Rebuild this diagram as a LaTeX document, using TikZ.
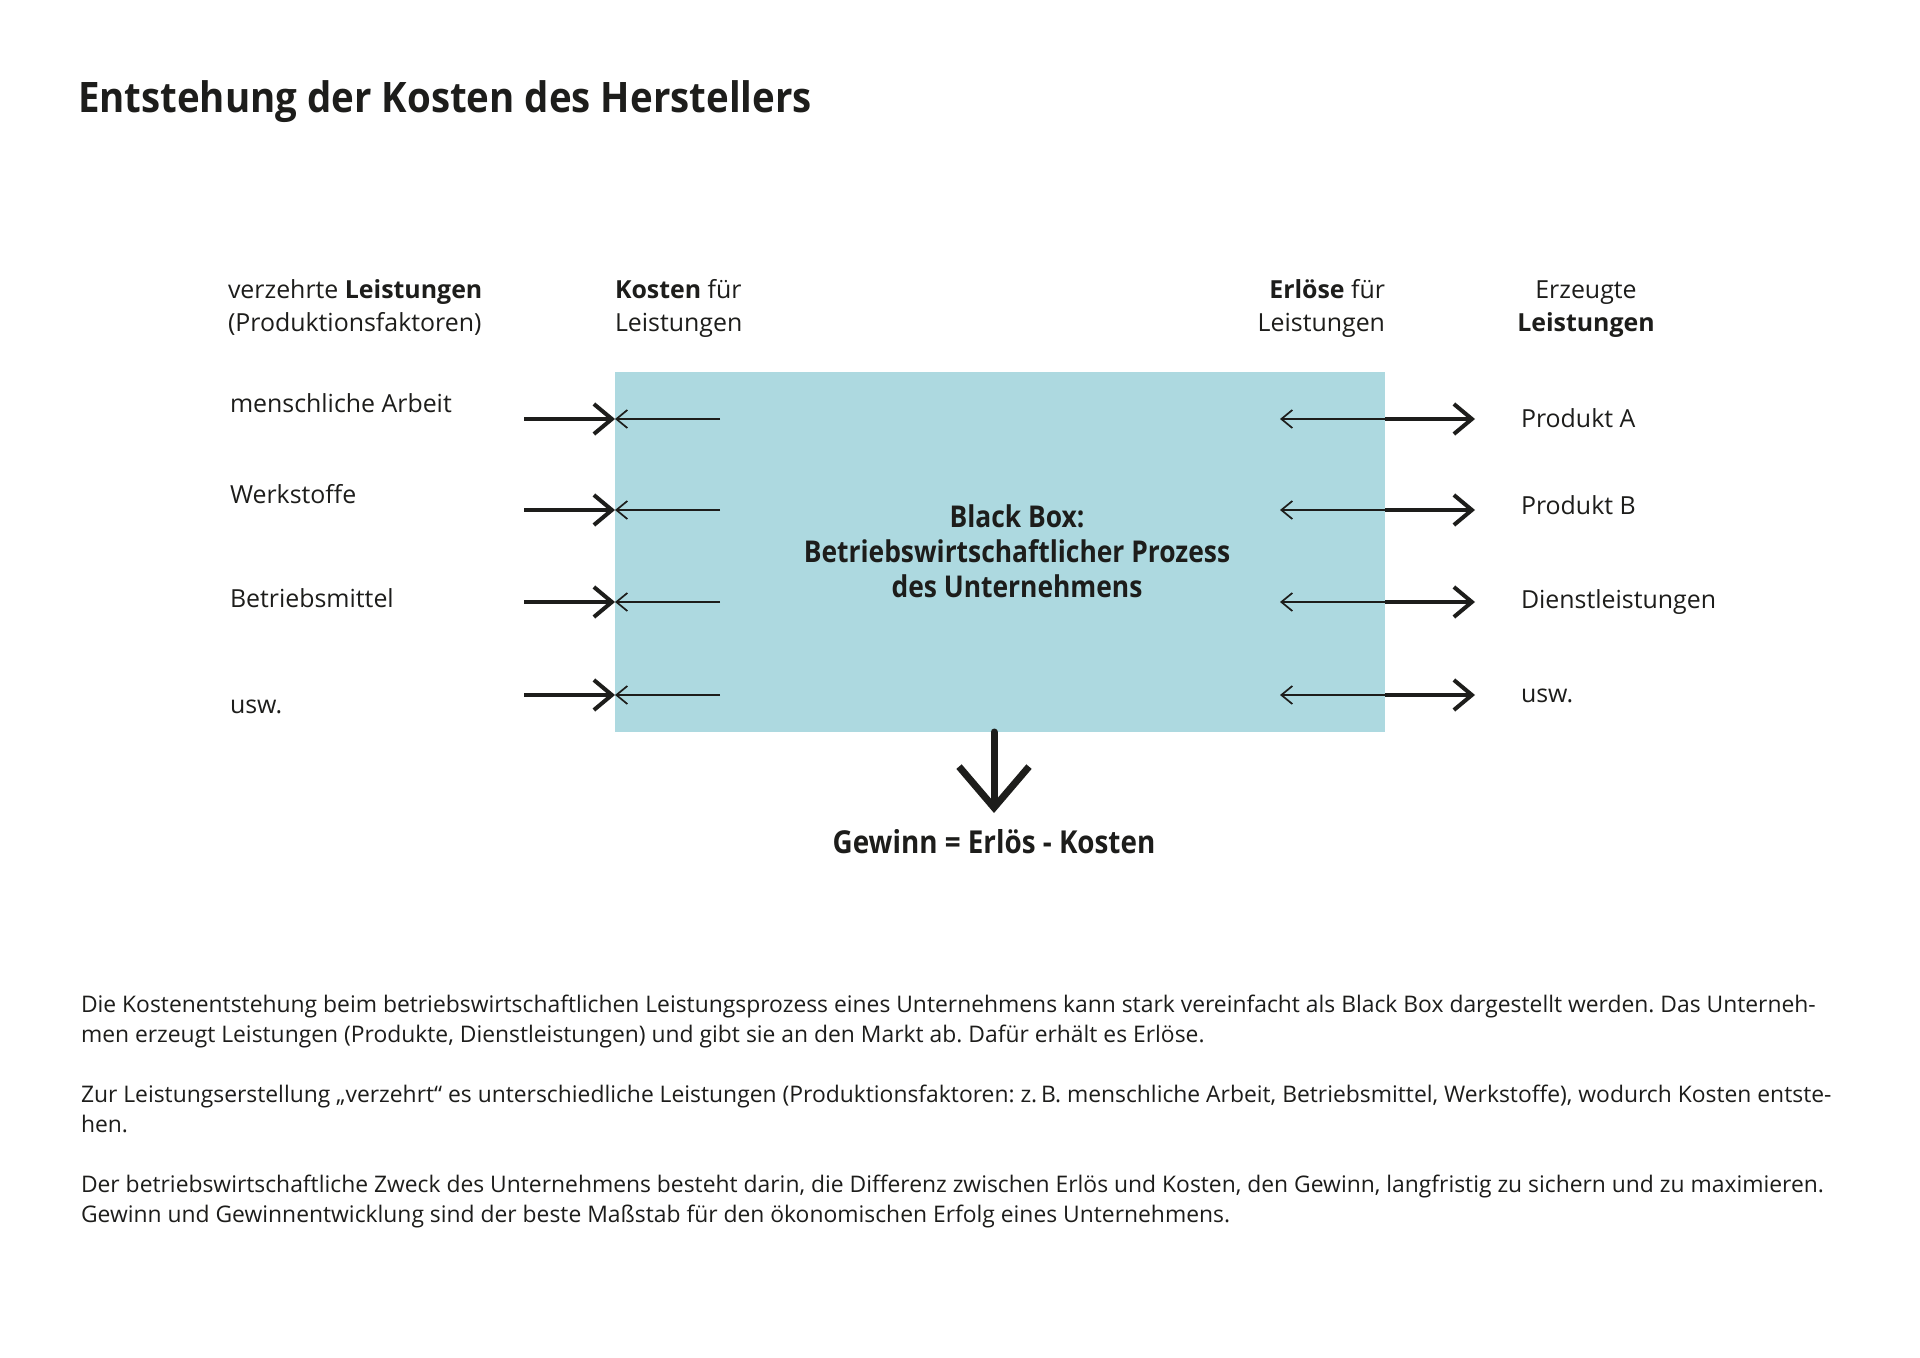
\documentclass[tikz,border=0pt]{standalone}
\usepackage{fontspec}
\setmainfont{Open Sans}
\newfontfamily\titlefont[FakeStretch=0.915]{Open Sans}
\newfontfamily\narrowfont[FakeStretch=0.88]{Open Sans}
\usetikzlibrary{arrows.meta}
\definecolor{boxblue}{HTML}{ADD9E0}
\definecolor{ink}{HTML}{1D1D1B}
\frenchspacing
\begin{document}
\begin{tikzpicture}[x=0.5pt,y=-0.5pt,
  every node/.style={inner sep=0pt,outer sep=0pt,text=ink},
  lbl/.style={anchor=base west,font=\fontsize{12.45}{15}\selectfont},
  lble/.style={anchor=base east,font=\fontsize{12.45}{15}\selectfont},
  lblc/.style={anchor=base,font=\fontsize{12.45}{15}\selectfont},
  boxtxt/.style={anchor=base,font=\fontsize{15}{17.5}\selectfont\narrowfont\bfseries},
  para/.style={anchor=base west,font=\fontsize{11.43}{15}\selectfont},
  thickarrow/.style={draw=ink,line width=2pt,-{Straight Barb[length=9pt,width=15pt]}},
  thinarrow/.style={draw=ink,line width=0.85pt,-{Straight Barb[length=5.5pt,width=9pt]}},
  downarrow/.style={draw=ink,line width=3.5pt,line cap=round,-{Straight Barb[length=20.5pt,width=35pt]}}
]
\fill[white] (0,0) rectangle (1920,1358);
\useasboundingbox (0,0) rectangle (1920,1358);

\node[anchor=base west,font=\fontsize{21}{25}\selectfont\titlefont\bfseries] (title) at (78,113) {Entstehung der Kosten des Herstellers};

% black box
\node[fill=boxblue,minimum width=385pt,minimum height=180pt] (box) at (1000,552) {};
\node[boxtxt] (boxtext1) at (1017,527) {Black Box:};
\node[boxtxt] (boxtext2) at (1017,562) {Betriebswirtschaftlicher Prozess};
\node[boxtxt] (boxtext3) at (1017,597) {des Unternehmens};

% headers
\node[lbl] (h1a) at (228,299) {verzehrte \textbf{Leistungen}};
\node[lbl] (h1b) at (228,332) {(Produktionsfaktoren)};
\node[lbl] (h2a) at (615,299) {\textbf{Kosten} für};
\node[lbl] (h2b) at (615,332) {Leistungen};
\node[lble] (h3a) at (1385,299) {\textbf{Erlöse} für};
\node[lble] (h3b) at (1385,332) {Leistungen};
\node[lblc] (h4a) at (1586,299) {Erzeugte};
\node[lblc] (h4b) at (1586,332) {\textbf{Leistungen}};

% left labels
\node[lbl] (in1) at (230,412) {menschliche Arbeit};
\node[lbl] (in2) at (230,503) {Werkstoffe};
\node[lbl] (in3) at (230,607) {Betriebsmittel};
\node[lbl] (in4) at (230,713) {usw.};

% right labels
\node[lbl] (out1) at (1521,427) {Produkt A};
\node[lbl] (out2) at (1521,514) {Produkt B};
\node[lbl] (out3) at (1521,608) {Dienstleistungen};
\node[lbl] (out4) at (1521,702) {usw.};

% arrow coordinates
\foreach \i/\y in {1/419,2/510,3/602,4/695}{
  \coordinate (la\i) at (524,\y);
  \coordinate (ki\i) at (720,\y);
  \coordinate (ke\i) at (1280,\y);
  \coordinate (ra\i) at (1475,\y);
}
\foreach \i in {1,2,3,4}{
  \draw[thinarrow] (ki\i) -- (ki\i -| box.west);
  \draw[thickarrow] (la\i) -- (la\i -| box.west);
  \draw[thinarrow] (ke\i -| box.east) -- (ke\i);
  \draw[thickarrow] (ke\i -| box.east) -- (ra\i);
}

% result
\node[anchor=base,font=\fontsize{15.8}{17.5}\selectfont\narrowfont\bfseries] (gewinn) at (994,853) {Gewinn = Erlös - Kosten};
\coordinate (gtip) at (994,813);
\draw[downarrow] (gewinn.north |- box.south) -- (gtip);

% paragraphs
\node[para] (p1) at (81,1012) {Die Kostenentstehung beim betriebswirtschaftlichen Leistungsprozess eines Unternehmens kann stark vereinfacht als Black Box dargestellt werden. Das Unterneh-};
\node[para] (p2) at (81,1042) {men erzeugt Leistungen (Produkte, Dienstleistungen) und gibt sie an den Markt ab. Dafür erhält es Erlöse.};
\node[para] (p3) at (81,1102) {Zur Leistungserstellung „verzehrt“ es unterschiedliche Leistungen (Produktionsfaktoren: z.\,B. menschliche Arbeit, Betriebsmittel, Werkstoffe), wodurch Kosten entste-};
\node[para] (p4) at (81,1132) {hen.};
\node[para] (p5) at (81,1192) {Der betriebswirtschaftliche Zweck des Unternehmens besteht darin, die Differenz zwischen Erlös und Kosten, den Gewinn, langfristig zu sichern und zu maximieren.};
\node[para] (p6) at (81,1222) {Gewinn und Gewinnentwicklung sind der beste Maßstab für den ökonomischen Erfolg eines Unternehmens.};
\end{tikzpicture}
\end{document}
